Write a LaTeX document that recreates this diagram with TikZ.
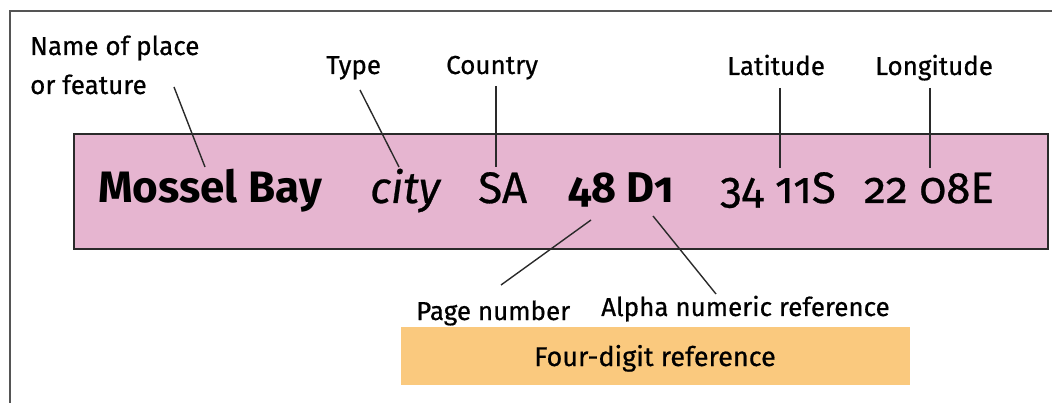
\documentclass[tikz,border=0pt]{standalone}
\usepackage{fontspec}
\setmainfont{Fira Sans}[Numbers=OldStyle, UprightFeatures={FakeBold=0.6}, ItalicFeatures={FakeBold=0.6}]
\definecolor{pinkfill}{HTML}{E6B5D0}
\definecolor{orangefill}{HTML}{FAC97E}
\definecolor{framegray}{HTML}{555555}
\definecolor{linedark}{HTML}{2A2A2A}
\tikzset{
  lbl/.style={anchor=base west, inner sep=0pt, font=\fontsize{26}{29}\selectfont, text=black},
  big/.style={anchor=base west, inner sep=0pt, font=\fontsize{44}{48}\selectfont, text=black},
  leader/.style={draw=linedark, line width=1.4pt},
}
\begin{document}
\begin{tikzpicture}[x=1pt,y=-1pt]
\useasboundingbox (0,0) rectangle (1052,403);
% frame
\draw[framegray, line width=2pt] (1052,11) -- (10,11) -- (10,403);
% boxes
\node[draw=linedark, line width=2pt, fill=pinkfill, minimum width=974pt, minimum height=115pt, inner sep=0pt, anchor=north west] (entry) at (73,133) {};
\node[fill=orangefill, minimum width=509pt, minimum height=58pt, inner sep=0pt, anchor=north west] (four) at (401,327) {};
\node[anchor=base, inner sep=0pt, font=\fontsize{27}{30}\selectfont] (fourtxt) at (655,366) {Four-digit reference};
% entry text
\node[big, font=\fontsize{44}{48}\selectfont\bfseries] (name) at (98,203) {Mossel Bay};
\node[big, font=\fontsize{44}{48}\selectfont\itshape] (city) at (370,203) {city};
\node[big] (sa) at (478,203) {SA};
\node[big, font=\fontsize{43}{46}\selectfont\bfseries] (page) at (568,203) {48 D1};
\node[big] (lat) at (720,203) {34 11S};
\node[big] (lon) at (864,203) {22 08E};
% labels
\node[lbl] (lname1) at (30,55) {Name of place};
\node[lbl] (lname2) at (30,94) {or feature};
\node[lbl] (ltype) at (326,74) {Type};
\node[lbl] (lcountry) at (446,74) {Country};
\node[lbl] (llat) at (727,75) {Latitude};
\node[lbl] (llon) at (875,75) {Longitude};
\node[lbl] (lpage) at (416,320) {Page number};
\node[lbl] (lalpha) at (601,316) {Alpha numeric reference};
% leader coordinates
\coordinate (n1) at (174,87);  \coordinate (n2) at (205,167);
\coordinate (t1) at (360,90);  \coordinate (t2) at (399,167);
\coordinate (c1) at (496,86);  \coordinate (c2) at (496,167);
\coordinate (a1) at (780,88);  \coordinate (a2) at (780,168);
\coordinate (o1) at (930,88);  \coordinate (o2) at (930,168);
\coordinate (p1) at (591,220); \coordinate (p2) at (501,285);
\coordinate (r1) at (653,216); \coordinate (r2) at (716,294);
\draw[leader] (n1) -- (n2);
\draw[leader] (t1) -- (t2);
\draw[leader] (c1) -- (c2);
\draw[leader] (a1) -- (a2);
\draw[leader] (o1) -- (o2);
\draw[leader] (p1) -- (p2);
\draw[leader] (r1) -- (r2);
\end{tikzpicture}
\end{document}
